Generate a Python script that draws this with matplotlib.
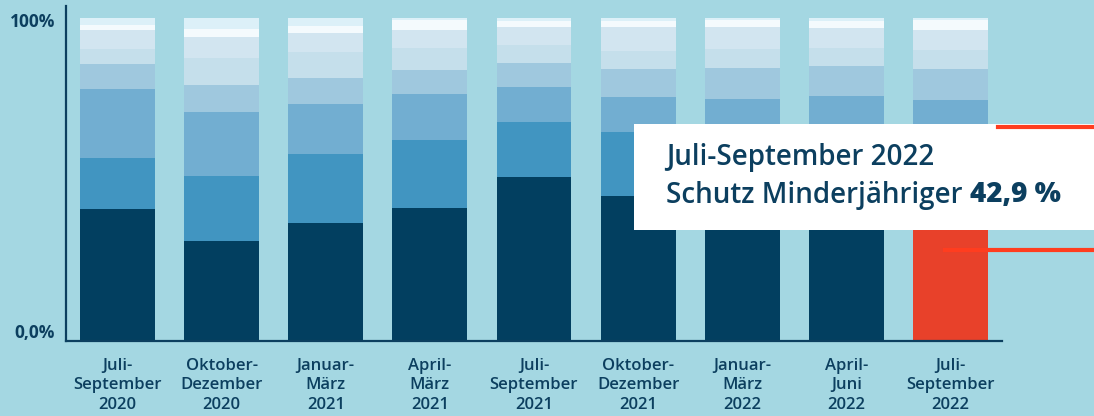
import matplotlib
matplotlib.use("Agg")
import matplotlib.pyplot as plt
from matplotlib.patches import Rectangle
from matplotlib.lines import Line2D

# ---- data (percent shares, bottom to top) ----
periods = ["Juli-\nSeptember\n2020", "Oktober-\nDezember\n2020", "Januar-\nMärz\n2021",
           "April-\nMärz\n2021", "Juli-\nSeptember\n2021", "Oktober-\nDezember\n2021",
           "Januar-\nMärz\n2022", "April-\nJuni\n2022", "Juli-\nSeptember\n2022"]
schutz_minderjaehriger = [41.0, 31.1, 36.6, 41.3, 50.9, 45.0, 44.9, 44.8, 42.9]
kategorie_2 = [15.8, 19.9, 21.4, 20.8, 16.8, 19.6, 18.0, 18.0, 18.7]
kategorie_3 = [21.1, 19.9, 15.5, 14.3, 10.9, 10.9, 12.0, 13.0, 13.0]
kategorie_4 = [7.8, 8.4, 7.8, 7.5, 7.5, 8.7, 9.6, 9.3, 9.6]
kategorie_5 = [4.7, 8.4, 8.1, 6.8, 5.6, 5.6, 5.9, 5.6, 5.9]
kategorie_6 = [5.9, 6.5, 5.9, 5.6, 5.6, 7.5, 6.8, 6.2, 6.2]
kategorie_7 = [1.6, 2.5, 2.2, 3.1, 1.9, 1.9, 2.2, 2.2, 3.1]
kategorie_8 = [2.1, 3.3, 2.5, 0.6, 0.8, 0.8, 0.6, 0.9, 0.6]
y_tick_labels = ["0,0%", "100%"]
highlight_title = "Juli-September 2022"
highlight_label = "Schutz Minderjähriger "
highlight_value = "42,9 %"

series = [schutz_minderjaehriger, kategorie_2, kategorie_3, kategorie_4,
          kategorie_5, kategorie_6, kategorie_7, kategorie_8]
colors = ["#023f60", "#4195c1", "#72aed1", "#9fc8de", "#c5dfeb", "#d2e5f0", "#f4fafd", "#dcf0f8"]
red = "#e8412a"
line_red = "#ff3d1f"
bg = "#a4d7e2"
txt = "#0c3f5f"

plt.rcParams['font.family'] = ['Open Sans', 'DejaVu Sans']

W, H = 1094, 416
fig = plt.figure(figsize=(W / 100, H / 100), dpi=100, facecolor=bg)
ax = fig.add_axes([66 / W, (H - 341) / H, (1002 - 66) / W, (341 - 6) / H], facecolor=bg)

x = list(range(len(periods)))
bottom = [0.0] * len(periods)
for i, (vals, c) in enumerate(zip(series, colors)):
    cols = [c] * len(periods)
    if i == 0:
        cols[-1] = red
    ax.bar(x, vals, width=0.72, bottom=bottom, color=cols, linewidth=0, zorder=2)
    bottom = [b + v for b, v in zip(bottom, vals)]

ax.set_xlim(-0.495, len(periods) - 1 + 0.495)
ax.set_ylim(0, 100 * 335 / 323)

for s in ["top", "right"]:
    ax.spines[s].set_visible(False)
for s in ["left", "bottom"]:
    ax.spines[s].set_color(txt)
    ax.spines[s].set_linewidth(1.6)
    ax.spines[s].set_zorder(3)

ax.set_yticks([])
ax.set_xticks(x)
ax.set_xticklabels(periods, fontsize=12, color=txt, fontweight="semibold", linespacing=1.3)
ax.tick_params(axis="x", length=0, pad=12)

# y labels
ax.text(-0.6, 0.9, y_tick_labels[0], ha="right", va="baseline", fontsize=12.5, fontweight="bold", color=txt)
ax.text(-0.6, 97.2, y_tick_labels[1], ha="right", va="baseline", fontsize=12.5, fontweight="bold", color=txt)

# callout box
box = Rectangle((634 / W, (H - 230) / H), (W - 634) / W + 0.01, (230 - 124) / H,
                transform=fig.transFigure, facecolor="white", edgecolor="none", zorder=10)
fig.add_artist(box)
fs = 20
fig.text(666 / W, (H - 165) / H, highlight_title, fontsize=fs, color=txt, fontweight="semibold",
         va="baseline", ha="left", zorder=11)
t1 = fig.text(666 / W, (H - 202.5) / H, highlight_label, fontsize=fs, color=txt, fontweight="semibold",
              va="baseline", ha="left", zorder=11)
fig.canvas.draw()
bb = t1.get_window_extent()
fig.text(bb.x1 / W, (H - 202.5) / H, highlight_value, fontsize=fs, color=txt, fontweight="heavy",
         va="baseline", ha="left", zorder=11)

fig.add_artist(Line2D([998 / W, 1.0], [(H - 127) / H] * 2, transform=fig.transFigure,
                      color=line_red, linewidth=3, zorder=12))
fig.add_artist(Line2D([945 / W, 1.0], [(H - 250) / H] * 2, transform=fig.transFigure,
                      color=line_red, linewidth=3, zorder=12))

fig.savefig("out.png", dpi=100, facecolor=bg)
